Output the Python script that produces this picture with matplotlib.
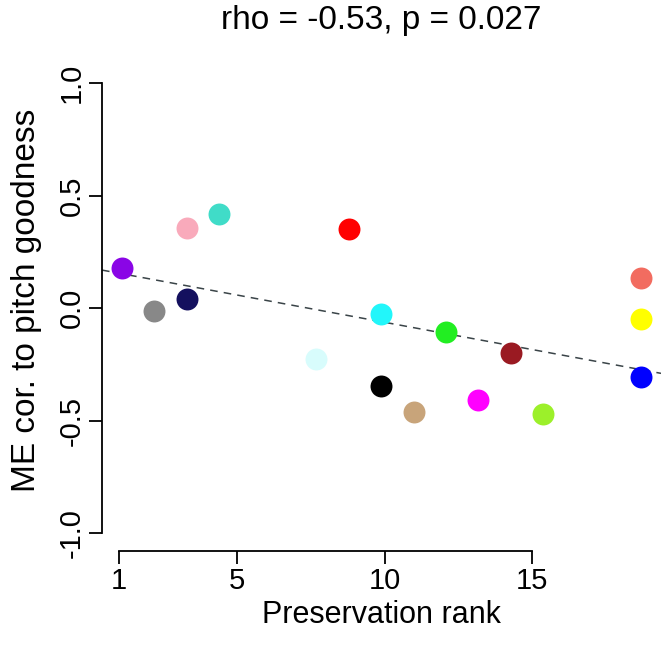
import numpy as np
import matplotlib
matplotlib.use("Agg")
import matplotlib.pyplot as plt

plt.rcParams['font.family'] = ['Liberation Sans', 'DejaVu Sans']

# Data
x_rank = [1.08, 2.18, 3.28, 3.28, 4.38, 7.68, 8.78, 9.88, 9.88, 10.98,
          12.08, 13.18, 14.28, 15.38, 18.68, 18.68, 18.68]
me_cor = [0.180, -0.015, 0.042, 0.357, 0.418, -0.228, 0.350, -0.028, -0.345, -0.460,
          -0.108, -0.409, -0.198, -0.470, 0.133, -0.049, -0.307]
point_colors = ['#8A05E6', '#888888', '#14105E', '#F9AABB', '#40DCC8', '#D8FCFC',
                '#FF0000', '#22F6FA', '#000000', '#C8A47A', '#22EE22', '#FF00FF',
                '#9A1A22', '#9CF02A', '#F26C60', '#FFFF00', '#0000FF']
x_ticks = [1, 5, 10, 15]
y_ticks = [-1.0, -0.5, 0.0, 0.5, 1.0]
title_txt = "rho = -0.53, p = 0.027"

W, H = 663, 648
fig = plt.figure(figsize=(W / 100, H / 100), dpi=100)
ax = fig.add_axes([102 / W, 1 - 551 / H, (661 - 102) / W, (551 - 65) / H])
ax.set_xlim(0.413, 19.375)
ax.set_ylim(-1.08, 1.08)

# regression line (dashed, full width)
slope, intercept = np.polyfit(x_rank, me_cor, 1)
xl = np.array(ax.get_xlim())
ax.plot(xl, intercept + slope * xl, ls=(0, (5, 4)), color='#3A4448', lw=1.1, zorder=1)

for xi, yi, c in zip(x_rank, me_cor, point_colors):
    ax.plot([xi], [yi], 'o', ms=15.8, color=c, mec='none', zorder=3)

for s in ['top', 'right']:
    ax.spines[s].set_visible(False)
ax.spines['left'].set_bounds(-1, 1)
ax.spines['bottom'].set_bounds(1, 15)
for s in ['left', 'bottom']:
    ax.spines[s].set_linewidth(1.3)

ax.set_xticks(x_ticks)
ax.set_xticklabels([str(v) for v in x_ticks])
ax.set_yticks(y_ticks)
ax.set_yticklabels([f"{v:.1f}" for v in y_ticks], rotation=90, va='center')
ax.tick_params(direction='out', length=9.5, width=1.3, labelsize=21, pad=2)

ax.set_xlabel("Preservation rank", fontsize=22, va='baseline')
ax.xaxis.set_label_coords((381 - 102) / 559, (551 - 623) / 486)
ax.set_ylabel("ME cor. to pitch goodness", fontsize=24, va='center')
ax.yaxis.set_label_coords((27 - 102) / 559, (551 - 300) / 486)
fig.text(381 / W, 1 - 20 / H, title_txt, fontsize=24, ha='center', va='center')

fig.savefig("out.png", dpi=100)
